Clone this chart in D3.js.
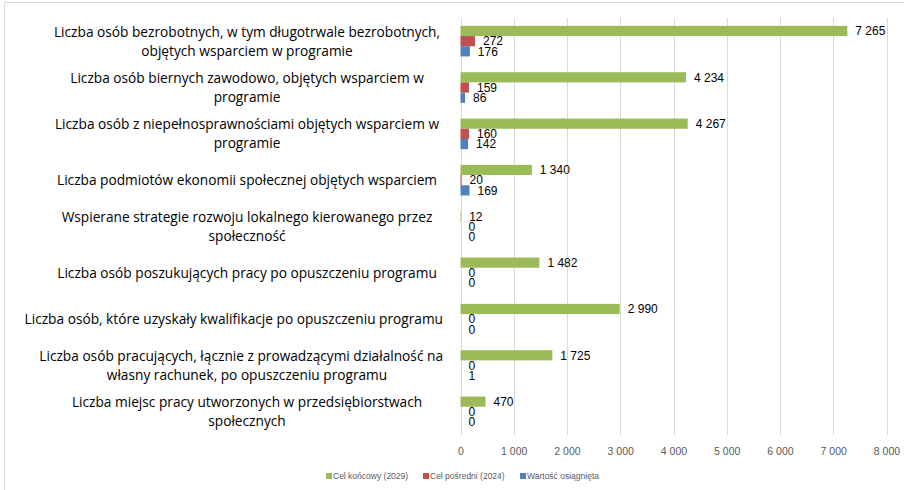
<!DOCTYPE html>
<html>
<head>
<meta charset="utf-8">
<script src="https://cdn.jsdelivr.net/npm/d3@7"></script>
<style>
  body { margin: 0; background: #fff; }
  svg { display: block; font-family: "Liberation Sans", Arial, sans-serif; }
</style>
</head>
<body>
<svg id="chart"></svg>
<script>
// categories (already wrapped as in the original)
const categories = [
    ['Liczba osób bezrobotnych, w tym długotrwale bezrobotnych,', 'objętych wsparciem w programie'],
    ['Liczba osób biernych zawodowo, objętych wsparciem w', 'programie'],
    ['Liczba osób z niepełnosprawnościami objętych wsparciem w', 'programie'],
    ['Liczba podmiotów ekonomii społecznej objętych wsparciem'],
    ['Wspierane strategie rozwoju lokalnego kierowanego przez', 'społeczność'],
    ['Liczba osób poszukujących pracy po opuszczeniu programu'],
    ['Liczba osób, które uzyskały kwalifikacje po opuszczeniu programu'],
    ['Liczba osób pracujących, łącznie z prowadzącymi działalność na', 'własny rachunek, po opuszczeniu programu'],
    ['Liczba miejsc pracy utworzonych w przedsiębiorstwach', 'społecznych']
];
const seriesNames = ['Cel końcowy (2029)', 'Cel pośredni (2024)', 'Wartość osiągnięta'];
const celKoncowy = [7265, 4234, 4267, 1340, 12, 1482, 2990, 1725, 470];
const celPosredni = [272, 159, 160, 20, 0, 0, 0, 0, 0];
const wartoscOsiagnieta = [176, 86, 142, 169, 0, 0, 0, 1, 0];
const xTicks = [0, 1000, 2000, 3000, 4000, 5000, 6000, 7000, 8000];
const colors = ['#9BBB59', '#C0504D', '#4F81BD'];

const W = 904, H = 490;
const plot = {left: 460.5, right: 886.5, top: 18, bottom: 435};

const svg = d3.select('#chart').attr('width', W).attr('height', H);

// chart area border (top + left visible)
svg.append('path')
    .attr('d', `M4.5,${H} L4.5,2.5 L${W},2.5`)
    .attr('fill', 'none').attr('stroke', '#D9D9D9');

const seriesData = [celKoncowy, celPosredni, wartoscOsiagnieta];
const fmt = v => d3.format(',')(v).replace(/,/g, ' ');

const x = d3.scaleLinear().domain([0, 8000]).range([plot.left, plot.right]);
const y = d3.scaleBand().domain(d3.range(categories.length))
    .range([plot.top, plot.bottom]).paddingInner(0.34).paddingOuter(0.17);
const ySub = d3.scaleBand().domain(d3.range(seriesNames.length)).range([0, y.bandwidth()]);

// gridlines
svg.append('g').selectAll('line').data(xTicks).join('line')
    .attr('x1', d => Math.round(x(d)) + 0.5).attr('x2', d => Math.round(x(d)) + 0.5)
    .attr('y1', plot.top).attr('y2', plot.bottom)
    .attr('stroke', '#D9D9D9').attr('stroke-width', 1);

// x axis labels
const xAxis = svg.append('g')
    .attr('transform', `translate(0,${plot.bottom})`)
    .call(d3.axisBottom(x).tickValues(xTicks).tickFormat(fmt).tickSize(0).tickPadding(13));
xAxis.select('.domain').remove();
xAxis.selectAll('text')
    .attr('font-size', 10.5).attr('fill', '#595959')
    .attr('font-family', '"Liberation Sans", Arial, sans-serif');

// bars
const groups = svg.append('g').selectAll('g.group')
    .data(categories.map((c, i) => i)).join('g')
    .attr('class', 'group')
    .attr('transform', i => `translate(0,${y(i)})`);

groups.selectAll('rect')
    .data(i => seriesData.map((s, k) => ({k, v: s[i]})))
    .join('rect')
    .attr('x', x(0))
    .attr('y', d => ySub(d.k))
    .attr('width', d => Math.max(0, x(d.v) - x(0)))
    .attr('height', ySub.bandwidth())
    .attr('fill', d => colors[d.k]);

groups.selectAll('text.val')
    .data(i => seriesData.map((s, k) => ({k, v: s[i]})))
    .join('text')
    .attr('class', 'val')
    .attr('x', d => x(d.v) + 8)
    .attr('y', d => ySub(d.k) + ySub.bandwidth() / 2)
    .attr('dy', '0.36em')
    .attr('font-size', 12)
    .attr('fill', '#000')
    .text(d => fmt(d.v));

// category labels, centred but kept left of the plot
const lineH = 19, labelCx = 247, labelMaxRight = 443;
const labels = svg.append('g').selectAll('text.cat')
    .data(categories).join('text')
    .attr('class', 'cat')
    .attr('text-anchor', 'middle')
    .attr('font-family', '"Open Sans", "Liberation Sans", sans-serif')
    .attr('font-size', 13.7)
    .attr('fill', '#000')
    .attr('transform', (d, i) => `translate(${labelCx},${y(i) + y.bandwidth() / 2 - (d.length - 1) * lineH / 2})`);
labels.selectAll('tspan').data(d => d).join('tspan')
    .attr('x', 0)
    .attr('y', (d, j) => j * lineH)
    .attr('dy', '0.36em')
    .text(d => d)
    .each(function () {
        const len = this.getComputedTextLength();
        const over = labelCx + len / 2 - labelMaxRight;
        if (over > 0) d3.select(this).attr('x', -over);
    });

// legend
const legendX = [326, 423, 520];
const legend = svg.append('g').selectAll('g').data(seriesNames).join('g')
    .attr('transform', (d, i) => `translate(${legendX[i]},476)`);
legend.append('rect').attr('x', 0).attr('y', -3).attr('width', 6).attr('height', 6)
    .attr('fill', (d, i) => colors[i]);
legend.append('text').attr('x', 7).attr('dy', '0.35em')
    .attr('font-size', 8.5).attr('fill', '#595959')
    .text(d => d);
</script>
</body>
</html>
